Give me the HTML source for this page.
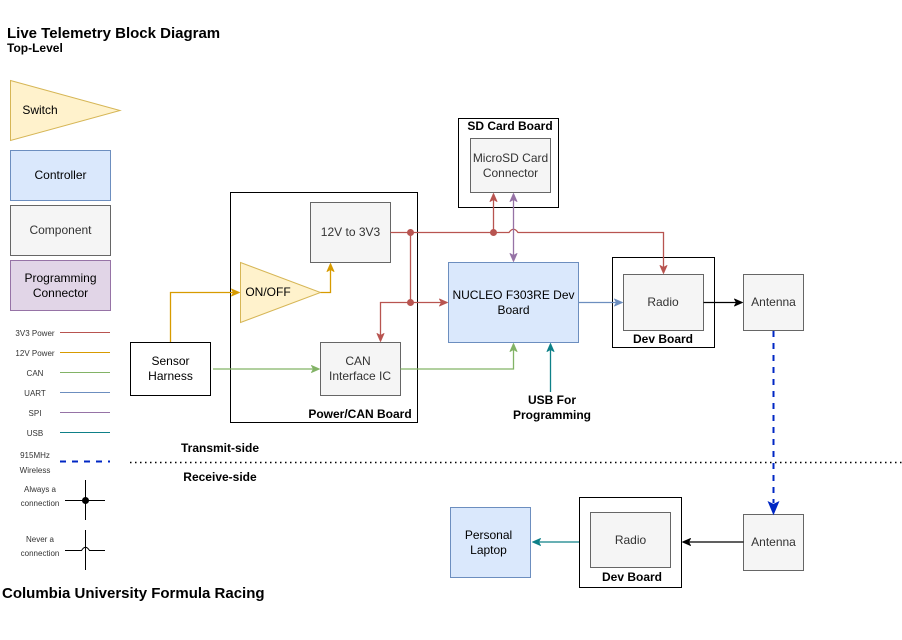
<!DOCTYPE html>
<html><head><meta charset="utf-8"><style>
html,body{margin:0;padding:0;background:#fff}
svg{display:block}
text{font-family:"Liberation Sans",Arial,sans-serif;font-size:12px;text-anchor:middle}
.b{font-weight:bold}
.g{fill:#333}
.l{font-size:8px;fill:#333}
.comp{fill:#f5f5f5;stroke:#666}
.blue{fill:#dae8fc;stroke:#6c8ebf}
.wh{fill:#fff;stroke:#000}
.line{fill:none;stroke-width:1.3}
.a{stroke-width:.9;stroke-linejoin:round}
</style></head><body>
<svg width="902" height="640" viewBox="0 0 902 640" xmlns="http://www.w3.org/2000/svg">
<rect width="902" height="640" fill="#fff"/>
<!-- titles -->
<text x="7" y="38" class="b" style="text-anchor:start;font-size:15px">Live Telemetry Block Diagram</text>
<text x="7" y="52" class="b" style="text-anchor:start">Top-Level</text>
<text x="2" y="598" class="b" style="text-anchor:start;font-size:15px">Columbia University Formula Racing</text>

<!-- legend -->
<polygon points="10.5,80.5 120,110.5 10.5,140.500" fill="#fff2cc" stroke="#d6b656"/>
<text x="40" y="114">Switch</text>
<rect x="10.5" y="150.5" width="100" height="50" class="blue"/>
<text x="60.5" y="179">Controller</text>
<rect x="10.5" y="205.5" width="100" height="50" class="comp"/>
<text x="60.5" y="234" class="g">Component</text>
<rect x="10.5" y="260.5" width="100" height="50" fill="#e1d5e7" stroke="#9673a6"/>
<text x="60.5" y="282">Programming</text>
<text x="60.5" y="297">Connector</text>

<text x="35" y="336" class="l">3V3 Power</text>
<text x="35" y="356" class="l">12V Power</text>
<text x="35" y="376" class="l">CAN</text>
<text x="35" y="396" class="l">UART</text>
<text x="35" y="416" class="l">SPI</text>
<text x="35" y="436" class="l">USB</text>
<text x="35" y="458" class="l">915MHz</text>
<text x="35" y="473" class="l">Wireless</text>
<text x="40" y="492" class="l">Always a</text>
<text x="40" y="506" class="l">connection</text>
<text x="40" y="542" class="l">Never a</text>
<text x="40" y="556" class="l">connection</text>
<g stroke-width="1">
<line x1="60" y1="332.5" x2="110" y2="332.5" stroke="#b85450"/>
<line x1="60" y1="352.5" x2="110" y2="352.5" stroke="#d79b00"/>
<line x1="60" y1="372.5" x2="110" y2="372.5" stroke="#82b366"/>
<line x1="60" y1="392.5" x2="110" y2="392.5" stroke="#6c8ebf"/>
<line x1="60" y1="412.5" x2="110" y2="412.5" stroke="#9673a6"/>
<line x1="60" y1="432.5" x2="110" y2="432.5" stroke="#0e8088"/>
</g>
<line x1="60" y1="461.5" x2="110" y2="461.5" stroke="#0027c4" stroke-width="2" stroke-dasharray="6 6"/>
<g stroke="#000" fill="none">
<path d="M85.5 480V520M65 500.500H105"/>
<path d="M85.500 530V570M65 550.500H81.500Q85.500 544 89.500 550.500H105"/>
</g>
<circle cx="85.500" cy="500.500" r="3.500" fill="#000"/>

<!-- containers -->
<rect x="230.500" y="192.500" width="187" height="230" class="wh"/>
<text x="360" y="418" class="b">Power/CAN Board</text>
<rect x="458.500" y="118.500" width="100" height="89" class="wh"/>
<text x="510" y="130" class="b">SD Card Board</text>
<rect x="612.500" y="257.500" width="102" height="90" class="wh"/>
<text x="663" y="343" class="b">Dev Board</text>
<rect x="579.500" y="497.500" width="102" height="90" class="wh"/>
<text x="632" y="581" class="b">Dev Board</text>

<!-- nodes -->
<rect x="310.500" y="202.500" width="80" height="60" class="comp"/>
<text x="350.500" y="236" class="g">12V to 3V3</text>
<polygon points="240.500,262.500 320.500,292.500 240.500,322.500" fill="#fff2cc" stroke="#d6b656"/>
<text x="268" y="296">ON/OFF</text>
<rect x="130.500" y="342.500" width="80" height="53" class="wh"/>
<text x="170.500" y="365">Sensor</text>
<text x="170.500" y="380">Harness</text>
<rect x="320.500" y="342.500" width="80" height="53" class="comp"/>
<text x="358" y="365" class="g">CAN</text>
<text x="360" y="380" class="g">Interface IC</text>
<rect x="448.500" y="262.500" width="130" height="80" class="blue"/>
<text x="513.500" y="299">NUCLEO F303RE Dev</text>
<text x="513.500" y="314">Board</text>
<rect x="470.500" y="138.500" width="80" height="54" class="comp"/>
<text x="510.500" y="162" class="g">MicroSD Card</text>
<text x="510.500" y="177" class="g">Connector</text>
<rect x="623.500" y="274.500" width="80" height="56" class="comp"/>
<text x="663" y="306" class="g">Radio</text>
<rect x="743.500" y="274.500" width="60" height="56" class="comp"/>
<text x="773.500" y="306" class="g">Antenna</text>
<rect x="743.500" y="514.500" width="60" height="56" class="comp"/>
<text x="773.500" y="546" class="g">Antenna</text>
<rect x="590.500" y="512.500" width="80" height="55" class="comp"/>
<text x="630.500" y="544" class="g">Radio</text>
<rect x="450.500" y="507.500" width="80" height="70" class="blue"/>
<text x="488.500" y="539">Personal</text>
<text x="488.500" y="554">Laptop</text>
<text x="552" y="404" class="b">USB For</text>
<text x="552" y="419" class="b">Programming</text>
<text x="220" y="452" class="b">Transmit-side</text>
<text x="220" y="481" class="b">Receive-side</text>

<!-- divider -->
<line x1="130" y1="462.500" x2="902" y2="462.500" stroke="#000" stroke-width="1.500" stroke-dasharray="1.500 3.500"/>

<!-- connectors -->
<g class="line" stroke="#b85450">
<path d="M390.500 232.500H509Q513.500 226 518 232.500H663.500V268"/>
<path d="M410.500 232.500V302.500"/>
<path d="M380.500 336V302.500H442"/>
<path d="M493.500 232.500V199"/>
</g>
<g fill="#b85450">
<circle cx="410.500" cy="232.500" r="3.500"/><circle cx="410.500" cy="302.500" r="3.500"/><circle cx="493.500" cy="232.500" r="3.500"/>
</g>
<g fill="#b85450" stroke="#b85450" class="a">
<path d="M663.500 273.500l-3.500-8 3.500 2 3.500-2z"/>
<path d="M380.500 341.500l-3.500-8 3.500 2 3.500-2z"/>
<path d="M447.500 302.500l-8-3.500 2 3.500-2 3.500z"/>
<path d="M493.500 193.500l-3.500 8 3.500-2 3.500 2z"/>
</g>
<path d="M513.500 199V256" class="line" stroke="#9673a6"/>
<g fill="#9673a6" stroke="#9673a6" class="a">
<path d="M513.500 193.500l-3.500 8 3.500-2 3.500 2z"/>
<path d="M513.500 261.500l-3.500-8 3.500 2 3.500-2z"/>
</g>
<path d="M578.500 302.500H617" class="line" stroke="#6c8ebf"/>
<path d="M622.500 302.500l-8-3.500 2 3.500-2 3.500z" fill="#6c8ebf" stroke="#6c8ebf" class="a"/>
<path d="M703.500 302.500H737" class="line" stroke="#000"/>
<path d="M742.500 302.500l-8-3.500 2 3.500-2 3.500z" fill="#000" stroke="#000" class="a"/>
<path d="M170.500 342V292.500H234" class="line" stroke="#d79b00"/>
<path d="M239.500 292.500l-8-3.500 2 3.500-2 3.500z" fill="#d79b00" stroke="#d79b00" class="a"/>
<path d="M320.500 292.500H330.500V269" class="line" stroke="#d79b00"/>
<path d="M330.500 263.500l-3.500 8 3.500-2 3.500 2z" fill="#d79b00" stroke="#d79b00" class="a"/>
<path d="M213 369H314" class="line" stroke="#82b366"/>
<path d="M319.500 369l-8-3.500 2 3.500-2 3.500z" fill="#82b366" stroke="#82b366" class="a"/>
<path d="M400.500 369H513.500V349" class="line" stroke="#82b366"/>
<path d="M513.500 343.500l-3.500 8 3.500-2 3.500 2z" fill="#82b366" stroke="#82b366" class="a"/>
<path d="M550.500 392V349" class="line" stroke="#0e8088"/>
<path d="M550.500 343.500l-3.500 8 3.500-2 3.500 2z" fill="#0e8088" stroke="#0e8088" class="a"/>
<path d="M773.500 331V503" fill="none" stroke="#0027c4" stroke-width="2" stroke-dasharray="6 6"/>
<path d="M773.500 514l-5-12 5 2.500 5-2.500z" fill="#0027c4" stroke="#0027c4"/>
<path d="M743.500 542H688" class="line" stroke="#000"/>
<path d="M682.500 542l8-3.500-2 3.500 2 3.500z" fill="#000" stroke="#000" class="a"/>
<path d="M579 542H538" class="line" stroke="#0e8088"/>
<path d="M532.500 542l8-3.500-2 3.500 2 3.500z" fill="#0e8088" stroke="#0e8088" class="a"/>
</svg>
</body></html>
